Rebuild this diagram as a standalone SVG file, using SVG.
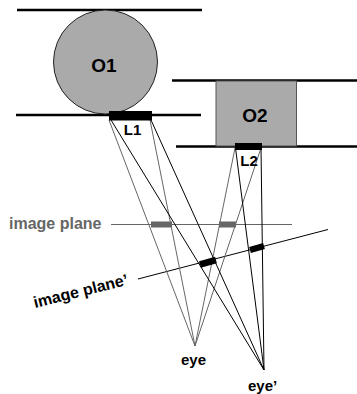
<svg xmlns="http://www.w3.org/2000/svg" width="357" height="394" viewBox="0 0 357 394">
<style>
text{font-family:"Liberation Sans",Arial,sans-serif;font-weight:bold;fill:#000}
.m{stroke:#000;stroke-width:2.4;fill:none}
.g{stroke:#666;stroke-width:1;fill:none}
.b{stroke:#000;stroke-width:1;fill:none}
</style>
<rect width="357" height="394" fill="#fff"/>
<g id="connectors">
<line class="m" x1="17" y1="10" x2="202" y2="10"/>
<line class="m" x1="16" y1="115" x2="201" y2="115"/>
<line class="m" x1="172" y1="80.500" x2="357" y2="80.500"/>
<line class="m" x1="176" y1="146.500" x2="357" y2="146.500"/>
<line class="g" x1="111" y1="224.500" x2="292" y2="224.500"/>
<line class="b" x1="138" y1="279" x2="328" y2="229.500"/>
<g class="g">
<line x1="109" y1="120" x2="195" y2="346"/>
<line x1="150" y1="120" x2="195" y2="346"/>
<line x1="235" y1="148" x2="195" y2="346"/>
<line x1="261" y1="148" x2="195" y2="346"/>
</g>
<g class="b">
<line x1="111" y1="120" x2="264" y2="370"/>
<line x1="151" y1="120" x2="264" y2="370"/>
<line x1="235.500" y1="148" x2="264" y2="370"/>
<line x1="261" y1="148" x2="264" y2="370"/>
</g>
</g>
<g id="O1"><circle cx="105.500" cy="62" r="52" fill="#aaa" stroke="#222" stroke-width="1"/><text x="104" y="72" font-size="19" text-anchor="middle">O1</text></g>
<g id="O2"><rect x="216" y="81" width="80.500" height="65" fill="#aaa" stroke="#555" stroke-width="1"/><text x="255" y="122" font-size="19" text-anchor="middle">O2</text></g>
<g id="L1"><rect x="109" y="111" width="43" height="9.500" fill="#000"/><text x="132.500" y="135" font-size="15" text-anchor="middle">L1</text></g>
<g id="L2"><rect x="235" y="143" width="27" height="7" fill="#000"/><text x="249" y="166" font-size="15" text-anchor="middle">L2</text></g>
<g id="image-plane"><text x="9" y="229" font-size="16" style="fill:#666">image plane</text><rect x="151" y="221.500" width="21" height="6" fill="#666"/><rect x="219" y="221.500" width="17" height="6" fill="#666"/></g>
<g id="image-plane-prime"><text font-size="16" transform="translate(35,308) rotate(-14)">image plane’</text><line x1="200" y1="264.500" x2="216" y2="260" stroke="#000" stroke-width="6.500"/><line x1="250" y1="250" x2="264" y2="246" stroke="#000" stroke-width="6.500"/></g>
<g id="eye"><text x="181" y="365" font-size="15">eye</text></g>
<g id="eye-prime"><text x="248" y="391" font-size="15">eye’</text></g>
</svg>
